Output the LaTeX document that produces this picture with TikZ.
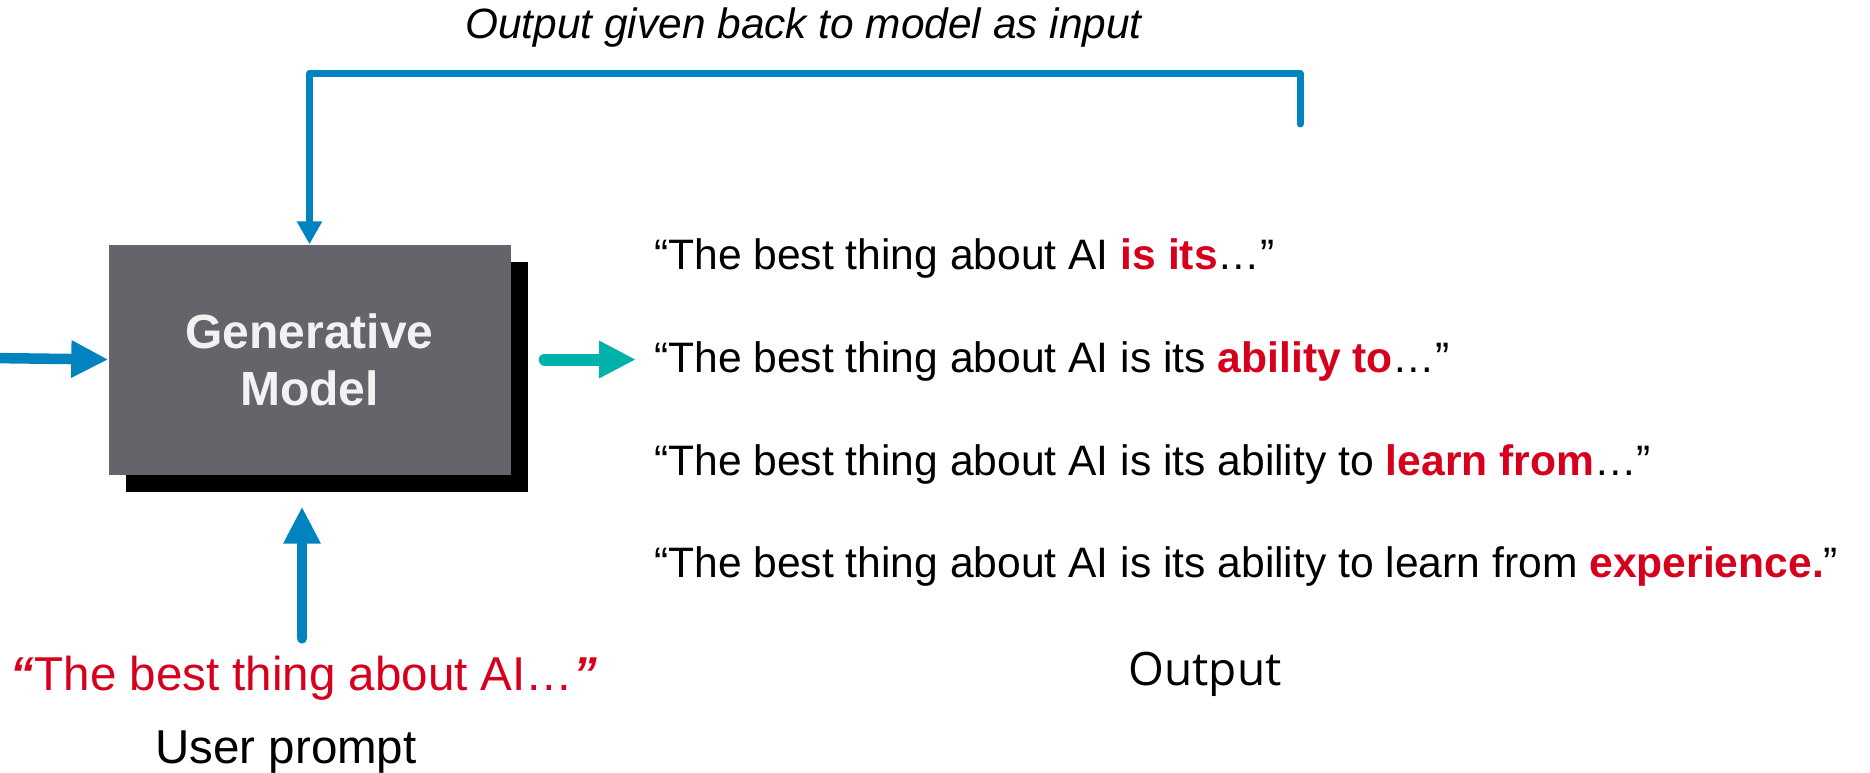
\documentclass[tikz,border=0pt]{standalone}
\usepackage{fontspec}
\setmainfont{Liberation Sans}
\newfontfamily\outfont{Open Sans}
\usepackage{tikz}
\usetikzlibrary{arrows.meta,shadows}

\definecolor{modelgray}{RGB}{99,101,106}
\definecolor{loopblue}{RGB}{0,131,190}
\definecolor{tealgreen}{RGB}{0,178,169}
\definecolor{hired}{RGB}{214,0,28}
\definecolor{boxtext}{RGB}{242,242,242}
\newcommand{\hl}[1]{\textcolor{hired}{\bfseries #1}}

\begin{document}
\begin{tikzpicture}[x=1pt,y=-1pt,
  modelbox/.style={fill=modelgray,text=boxtext,align=center,inner sep=0,
    minimum width=402pt,minimum height=230pt,
    font=\fontsize{48}{57}\selectfont\bfseries,
    drop shadow={shadow xshift=17pt,shadow yshift=-17pt,fill=black,opacity=1}},
  sentence/.style={anchor=base west,inner sep=0,font=\fontsize{42.6}{51}\selectfont},
  caption/.style={anchor=base,inner sep=0,font=\fontsize{47.5}{57}\selectfont},
  bluearrow/.style={draw=loopblue,line width=10.5pt,line cap=round,
    -{Triangle[length=37pt,width=35pt]}},
  tealarrow/.style={draw=tealgreen,line width=12pt,line cap=round,
    -{Triangle[length=37pt,width=35pt]}},
  loopline/.style={draw=loopblue,line width=7pt,line cap=round,line join=round,
    -{Triangle[length=23pt,width=24pt]}}]
  \useasboundingbox (0,0) rectangle (1870,773);

  \node[modelbox] (model) at (309.5,359.5) {Generative\\Model};

  \node[anchor=base,inner sep=0,font=\fontsize{42.4}{51}\selectfont\itshape] (title) at (803.5,39) {Output given back to model as input};

  \node[sentence] (s1) at (654,269) {“The best thing about AI \hl{is its}…”};
  \node[sentence] (s2) at (654,372) {“The best thing about AI is its \hl{ability to}…”};
  \node[sentence] (s3) at (654,475) {“The best thing about AI is its ability to \hl{learn from}…”};
  \node[sentence] (s4) at (654,577) {“The best thing about AI is its ability to learn from \hl{experience.}”};

  \node[caption,font=\fontsize{46}{55}\outfont] (output) at (1205,685) {Output};
  \node[caption,text=hired] (prompt) at (304,690) {\textbf{\textit{“}}The best thing about AI…\textbf{\textit{”}}};
  \node[caption] (user) at (286,763) {User prompt};

  % feedback loop
  \coordinate (loopend) at (1300,124);
  \draw[loopline] (loopend) -- (1300,73.5) -| (model.north);

  \coordinate (inleft) at (-10,358);
  \draw[bluearrow] (inleft) -- (model.west);
  \draw[bluearrow] ([yshift=17pt]prompt.north -| 302,0) -- ([yshift=-32pt]model.south -| 302,0);
  \draw[tealarrow] ([xshift=34pt]model.east) -- ([xshift=-18pt]model.east -| s2.west);
\end{tikzpicture}
\end{document}
